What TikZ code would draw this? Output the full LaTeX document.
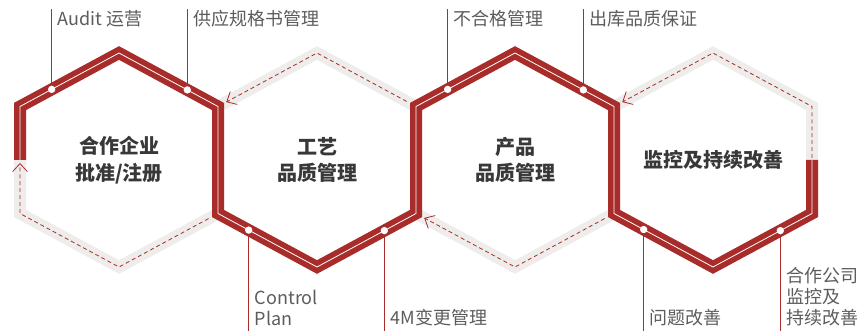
\documentclass[tikz,border=0pt]{standalone}
\usepackage{fontspec}
\setmainfont{Noto Sans CJK SC}
\usetikzlibrary{arrows.meta,calc,positioning}

\definecolor{hexred}{HTML}{A82C2A}
\definecolor{ringgrey}{HTML}{EFEDEC}
\definecolor{labelgrey}{HTML}{5C5C5C}
\definecolor{titlegrey}{HTML}{383838}

\begin{document}
\begin{tikzpicture}[x=0.75pt,y=-0.75pt,
    band/.style={line width=9pt,line join=miter},
    dot/.style={circle,fill=white,inner sep=0pt,minimum size=5.5pt},
    lead/.style={hexred,line width=0.75pt},
    lbl/.style={inner sep=0pt,text=labelgrey,font=\fontsize{13.5}{15.5}\selectfont,align=left},
    hextext/.style={text=titlegrey,font=\bfseries\fontsize{15}{20}\selectfont,align=center},
    loopback/.style={hexred,line width=0.6pt,dash pattern=on 3pt off 2.2pt,-{Straight Barb[length=6pt,width=11pt]}}]

    \useasboundingbox (0,0) rectangle (863,331);
    \coordinate (top) at (0,9);
    \coordinate (bot) at (0,331);

    % Corners of the four hexagons
    \foreach \i in {1,...,4} {
        \pgfmathsetmacro\cx{119+198*(\i-1)}
        \coordinate (h\i-c) at (\cx,160);
        \coordinate (h\i-t) at (\cx,53);
        \coordinate (h\i-b) at (\cx,267);
        \coordinate (h\i-tl) at (\cx-99,106.5);
        \coordinate (h\i-tr) at (\cx+99,106.5);
        \coordinate (h\i-bl) at (\cx-99,213.5);
        \coordinate (h\i-br) at (\cx+99,213.5);
        \coordinate (h\i-l) at (\cx-99,160);
        \coordinate (h\i-r) at (\cx+99,160);
    }

    % Grey rings
    \foreach \i in {1,...,4}
        \draw[band,ringgrey] (h\i-t) -- (h\i-tr) -- (h\i-br) -- (h\i-b) -- (h\i-bl) -- (h\i-tl) -- cycle;

    % Red band running through all four
    \draw[band,hexred] (h1-l) -- (h1-tl) -- (h1-t) -- (h1-tr) -- (h1-br) -- (h2-b) -- (h2-br) -- (h2-tr)
        -- (h3-t) -- (h3-tr) -- (h3-br) -- (h4-b) -- (h4-br) -- (h4-r);
    \draw[white,line width=0.6pt,line join=miter] (h1-l) -- (h1-tl) -- (h1-t) -- (h1-tr) -- (h1-br) -- (h2-b)
        -- (h2-br) -- (h2-tr) -- (h3-t) -- (h3-tr) -- (h3-br) -- (h4-b) -- (h4-br) -- (h4-r);

    % Dashed return arrows
    \draw[loopback] ($(h1-br)!8pt!(h1-b)$) -- (h1-b) -- (h1-bl) -- ($(h1-l)+(0,3)$);
    \draw[loopback] ($(h2-tr)!8pt!(h2-t)$) -- (h2-t) -- ($(h2-tl)!7pt!(h2-t)$);
    \draw[loopback] ($(h3-br)!8pt!(h3-b)$) -- (h3-b) -- ($(h3-bl)!7pt!(h3-b)$);
    \draw[loopback] ($(h4-r)+(0,-2)$) -- (h4-tr) -- (h4-t) -- ($(h4-tl)!7pt!(h4-t)$);

    % Texts inside
    \node[hextext] (n1) at (h1-c) {合作企业\\批准/注册};
    \node[hextext] (n2) at (h2-c) {工艺\\品质管理};
    \node[hextext] (n3) at (h3-c) {产品\\品质管理};
    \node[hextext] (n4) at (h4-c) {监控及持续改善};

    % Dots on the band
    \node[dot] (d1) at ($(h1-t)!0.68!(h1-tl)$) {};
    \node[dot] (d2) at ($(h1-t)!0.69!(h1-tr)$) {};
    \node[dot] (d3) at ($(h2-b)!0.69!(h2-bl)$) {};
    \node[dot] (d4) at ($(h2-b)!0.68!(h2-br)$) {};
    \node[dot] (d5) at ($(h3-t)!0.68!(h3-tl)$) {};
    \node[dot] (d6) at ($(h3-t)!0.69!(h3-tr)$) {};
    \node[dot] (d7) at ($(h4-b)!0.70!(h4-bl)$) {};
    \node[dot] (d8) at ($(h4-b)!0.68!(h4-br)$) {};

    % Leader lines
    \coordinate (u1) at (d1 |- top);
    \coordinate (u2) at (d2 |- top);
    \coordinate (u3) at (d3 |- bot);
    \coordinate (u4) at (d4 |- bot);
    \coordinate (u5) at (d5 |- top);
    \coordinate (u6) at (d6 |- top);
    \coordinate (u7) at (d7 |- bot);
    \coordinate (u8) at (d8 |- bot);
    \foreach \k in {1,...,8}
        \draw[lead] (d\k) -- (u\k);

    % Labels
    \node[lbl,anchor=base west] (l1) at ($(u1)+(6,17)$) {Audit 运营};
    \node[lbl,anchor=base west] (l2) at ($(u2)+(6,17)$) {供应规格书管理};
    \node[lbl,anchor=south west] (l3) at ($(u3)+(6,-5)$) {Control\\Plan};
    \node[lbl,anchor=south west] (l4) at ($(u4)+(6,-5)$) {4M变更管理};
    \node[lbl,anchor=base west] (l5) at ($(u5)+(6,17)$) {不合格管理};
    \node[lbl,anchor=base west] (l6) at ($(u6)+(6,17)$) {出库品质保证};
    \node[lbl,anchor=south west] (l7) at ($(u7)+(6,-5)$) {问题改善};
    \node[lbl,anchor=south west] (l8) at ($(u8)+(6,-5)$) {合作公司\\监控及\\持续改善};

\end{tikzpicture}
\end{document}
